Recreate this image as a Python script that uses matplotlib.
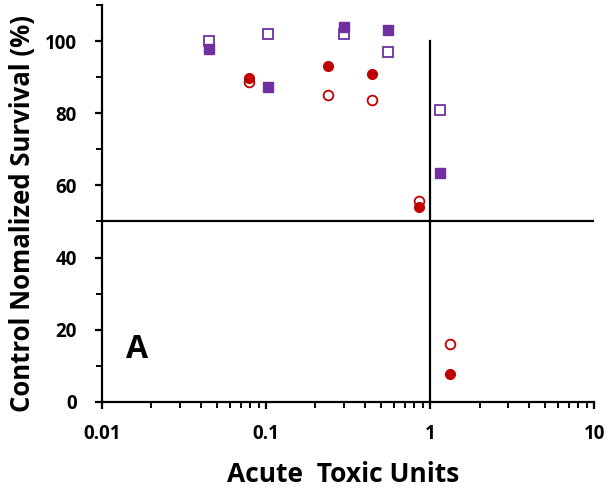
import matplotlib
matplotlib.use("Agg")
import matplotlib.pyplot as plt
from matplotlib.ticker import LogLocator, FixedLocator, FixedFormatter, NullFormatter

plt.rcParams['font.family'] = ['Open Sans', 'DejaVu Sans']

# Data
sq_open_x = [0.045, 0.103, 0.30, 0.55, 1.15]
sq_open_y = [100.0, 102.0, 102.0, 97.0, 81.0]
sq_fill_x = [0.045, 0.103, 0.30, 0.55, 1.15]
sq_fill_y = [97.8, 87.2, 104.0, 103.0, 63.3]
ci_open_x = [0.079, 0.24, 0.44, 0.86, 1.32]
ci_open_y = [88.6, 85.0, 83.6, 55.6, 16.1]
ci_fill_x = [0.079, 0.24, 0.44, 0.86, 1.32]
ci_fill_y = [89.7, 93.0, 90.8, 53.9, 7.8]

xticks = [0.01, 0.1, 1, 10]
xticklabels = ["0.01", "0.1", "1", "10"]
yticks = [0, 20, 40, 60, 80, 100]
yminor = [10, 30, 50, 70, 90, 110]

purple = "#7030A0"
red = "#C00000"

fig = plt.figure(figsize=(6.07, 4.95), dpi=100)
ax = fig.add_axes([0.168, 0.188, 0.811, 0.802])

ax.set_xscale('log')
ax.set_xlim(0.01, 10)
ax.set_ylim(0, 110)

# reference lines
ax.axhline(50, color='black', lw=1.6, zorder=1)
ax.plot([1, 1], [0, 100], color='black', lw=1.6, zorder=1)

ax.plot(sq_open_x, sq_open_y, ls='none', marker='s', ms=7.5, mfc='white', mec=purple, mew=1.3, zorder=3)
ax.plot(sq_fill_x, sq_fill_y, ls='none', marker='s', ms=7.5, mfc=purple, mec=purple, mew=1.0, zorder=4)
ax.plot(ci_open_x, ci_open_y, ls='none', marker='o', ms=7.0, mfc='white', mec=red, mew=1.3, zorder=3)
ax.plot(ci_fill_x, ci_fill_y, ls='none', marker='o', ms=7.0, mfc=red, mec=red, mew=1.0, zorder=4)

for s in ['top', 'right']:
    ax.spines[s].set_visible(False)
for s in ['left', 'bottom']:
    ax.spines[s].set_linewidth(1.6)

ax.xaxis.set_major_locator(FixedLocator(xticks))
ax.xaxis.set_major_formatter(FixedFormatter(xticklabels))
ax.xaxis.set_minor_locator(LogLocator(base=10, subs=range(2, 10)))
ax.xaxis.set_minor_formatter(NullFormatter())
ax.set_yticks(yticks)
ax.yaxis.set_minor_locator(FixedLocator(yminor))

ax.tick_params(axis='both', which='major', direction='out', length=5, width=1.6, labelsize=13.5)
ax.tick_params(axis='x', which='major', pad=11)
ax.tick_params(axis='y', which='major', pad=13)
ax.tick_params(axis='both', which='minor', direction='out', length=4, width=1.4)
for lab in ax.get_xticklabels() + ax.get_yticklabels():
    lab.set_fontweight('bold')

ax.set_xlabel("Acute  Toxic Units", fontsize=19, fontweight='bold')
ax.set_ylabel("Control Nomalized Survival (%)", fontsize=18.5, fontweight='bold')
ax.xaxis.set_label_coords(0.49, -0.148)
ax.yaxis.set_label_coords(-0.135, 0.475)

ax.text(0.0141, 12.2, "A", fontsize=23, fontweight='bold', ha='left', va='baseline')

fig.savefig("out.png", dpi=100)
